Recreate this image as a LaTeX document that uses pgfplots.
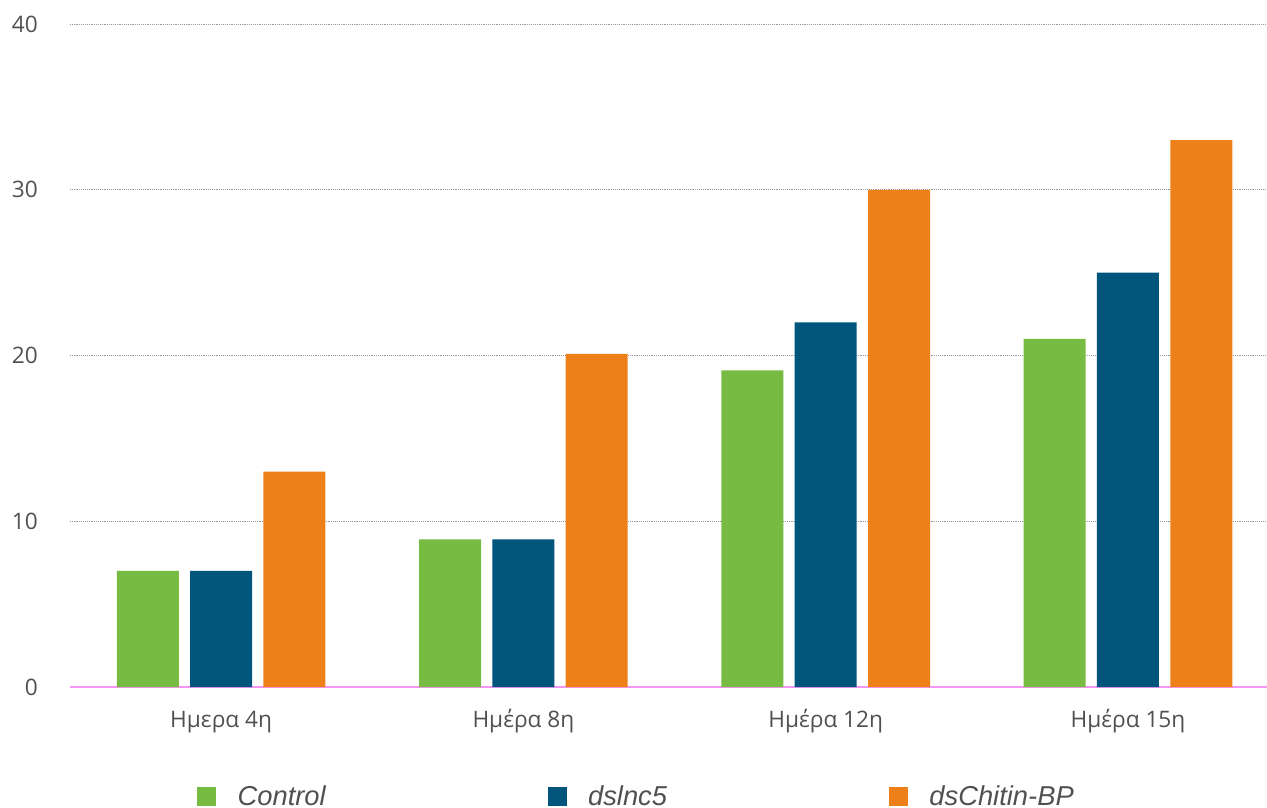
\documentclass[border=0pt]{standalone}
\usepackage{pgfplots}
\pgfplotsset{compat=1.18}
\usepackage{fontspec}
\setmainfont{Open Sans}
\newfontfamily\legfont{Liberation Sans}
\definecolor{cgreen}{RGB}{120,187,66}
\definecolor{cblue}{RGB}{0,85,124}
\definecolor{corange}{RGB}{238,128,26}
\definecolor{ctext}{RGB}{80,80,80}
\definecolor{cpink}{RGB}{245,150,245}
\begin{document}
\begin{tikzpicture}
\begin{axis}[
  name=ax,
  scale only axis,
  width=897.75pt, height=497.25pt,
  xmin=-0.5, xmax=3.46,
  ymin=0, ymax=40,
  ybar=8.5pt,
  bar width=46.5pt,
  axis line style={draw=none},
  major tick length=0pt,
  xtick={0,1,2,3},
  xticklabels={Ημερα 4η, Ημέρα 8η, Ημέρα 12η, Ημέρα 15η},
  ytick={10,20,30,40},
  extra y ticks={0},
  extra y tick style={grid style={draw=cpink, solid, line width=1pt}},
  ymajorgrids,
  grid style={densely dotted, draw=gray!80, line width=0.7pt},
  /pgf/number format/assume math mode=true,
  tick label style={font=\fontsize{17}{20}\selectfont, text=ctext},
  xticklabel style={anchor=base, inner sep=0pt, yshift=-30pt},
  yticklabel style={anchor=east, inner sep=0pt, xshift=-24pt},
  clip=false,
  legend columns=3,
  legend style={
    at={(axis description cs:0.1028,-0.1652)}, anchor=west,
    draw=none, fill=none,
    font=\legfont\itshape\fontsize{20.5}{24}\selectfont,
    text=ctext,
    /tikz/every odd column/.append style={column sep=14pt},
    /tikz/every even column/.append style={column sep=164.5pt},
  },
]
\addplot[fill=cgreen, draw=none, legend image code/.code={\fill[cgreen] (0pt,-7.1pt) rectangle (14.25pt,7.1pt);}]
  coordinates {(0,7) (1,8.9) (2,19.1) (3,21)};
\addplot[fill=cblue, draw=none, legend image code/.code={\fill[cblue] (0pt,-7.1pt) rectangle (14.25pt,7.1pt);}]
  coordinates {(0,7) (1,8.9) (2,22) (3,25)};
\addplot[fill=corange, draw=none, legend image code/.code={\fill[corange] (0pt,-7.1pt) rectangle (14.25pt,7.1pt);}]
  coordinates {(0,13) (1,20.1) (2,30) (3,33)};
\legend{Control, dslnc5, dsChitin-BP}
\end{axis}
\pgfresetboundingbox
\path[use as bounding box] ([xshift=-52.5pt,yshift=-90pt]ax.south west) rectangle ([yshift=18pt]ax.north east);
\end{tikzpicture}
\end{document}
